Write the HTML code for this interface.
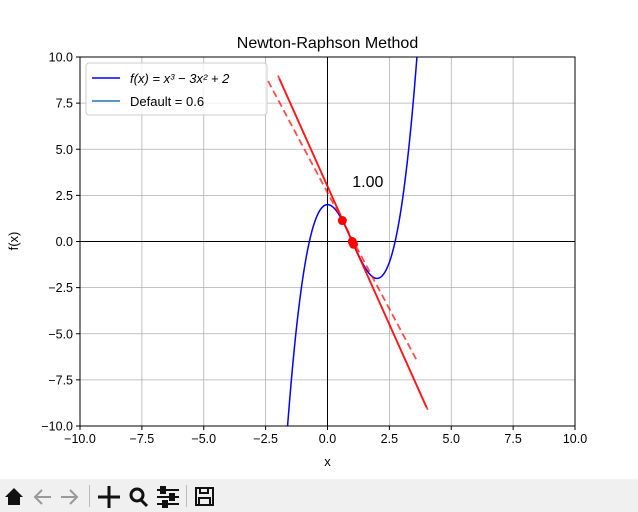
<!DOCTYPE html>
<html><head><meta charset="utf-8"><style>
html,body{margin:0;padding:0;width:638px;height:512px;background:#fff;overflow:hidden;font-family:"Liberation Sans","DejaVu Sans",sans-serif}
#wrap{position:relative;width:638px;height:512px;overflow:hidden}
svg{display:block}
</style></head><body>
<div id="wrap">
<svg id="chart" width="638" height="479" style="position:absolute;left:0;top:0;overflow:hidden" font-family="Liberation Sans, DejaVu Sans, sans-serif"></svg>
<svg width="638" height="33" style="position:absolute;left:0;top:479px;overflow:hidden">
<rect width="638" height="33" fill="#f0f0f0"/>
<g fill="#111"><polygon points="5,18 14,9 23,18"/><rect x="8" y="17" width="12" height="9"/></g>
<g fill="none" stroke="#999" stroke-width="2"><polyline points="42,11 35,18 42,25"/><line x1="35" y1="18" x2="51" y2="18"/></g>
<g fill="none" stroke="#999" stroke-width="2"><polyline points="70,11 77,18 70,25"/><line x1="61" y1="18" x2="77" y2="18"/></g>
<rect x="89" y="6" width="1" height="22" fill="#bbb"/>
<g stroke="#111" stroke-width="3"><line x1="98" y1="18" x2="120" y2="18"/><line x1="109" y1="7" x2="109" y2="29"/></g>
<g fill="none" stroke="#111" stroke-width="3"><circle cx="137" cy="16" r="6"/><line x1="141" y1="21" x2="147" y2="27"/></g>
<g stroke="#111" stroke-width="2"><line x1="157" y1="11" x2="179" y2="11"/><line x1="157" y1="18" x2="179" y2="18"/><line x1="157" y1="25" x2="179" y2="25"/><rect x="161" y="8" width="4" height="6" fill="#111"/><rect x="170" y="15" width="4" height="6" fill="#111"/><rect x="163" y="22" width="4" height="6" fill="#111"/></g>
<rect x="186" y="6" width="1" height="22" fill="#bbb"/>
<g fill="none" stroke="#111" stroke-width="2"><rect x="196" y="9" width="17" height="17"/><rect x="200" y="9" width="8" height="5"/><rect x="199" y="19" width="11" height="7"/></g>
</svg>
</div>
<script>
const xTicks=[-10,-7.5,-5,-2.5,0,2.5,5,7.5,10];
const yTicks=[-10,-7.5,-5,-2.5,0,2.5,5,7.5,10];
const x0Default=[0.6];
const iterX=[0.6,1.0508,1.0];
const iterY=[1.136,-0.152,0.0];
const iterSlope=[-2.52,-2.99,-3.0];
const rootLabel=["1.00"];
const L=80,R=575,T=57,B=426;
const sx=v=>L+(v+10)/20*(R-L), sy=v=>B-(v+10)/20*(B-T);
const svg=document.getElementById('chart'),NS='http://www.w3.org/2000/svg';
function mk(t,a,txt){const e=document.createElementNS(NS,t);for(const k in a)e.setAttribute(k,a[k]);if(txt!=null)e.textContent=txt;svg.appendChild(e);return e;}
const defs=mk('defs',{});const cp=document.createElementNS(NS,'clipPath');cp.setAttribute('id','c');const cr=document.createElementNS(NS,'rect');
cr.setAttribute('x',L);cr.setAttribute('y',T);cr.setAttribute('width',R-L);cr.setAttribute('height',B-T);cp.appendChild(cr);defs.appendChild(cp);
let e;
xTicks.forEach(v=>{
e=mk('line',{x1:sx(v),x2:sx(v),y1:T,y2:B,stroke:'#b0b0b0','stroke-width':0.8});

mk('line',{x1:sx(v),x2:sx(v),y1:B,y2:B+4,stroke:'#000'});
e=mk('text',{x:sx(v),y:B+17,'text-anchor':'middle','font-size':12.5},v.toFixed(1).replace('-','−'));
});
yTicks.forEach(v=>{
e=mk('line',{x1:L,x2:R,y1:sy(v),y2:sy(v),stroke:'#b0b0b0','stroke-width':0.8});

mk('line',{x1:L-4,x2:L,y1:sy(v),y2:sy(v),stroke:'#000'});
e=mk('text',{x:L-7,y:sy(v)+4.5,'text-anchor':'end','font-size':12.5},v.toFixed(1).replace('-','−'));
});
e=mk('line',{x1:L,x2:R,y1:sy(0),y2:sy(0),stroke:'#000'});
e=mk('line',{x1:sx(0),x2:sx(0),y1:T,y2:B,stroke:'#000'});
const g=mk('g',{'clip-path':'url(#c)'});
let d='';for(let i=0;i<=800;i++){const x=-10+20*i/800,y=x*x*x-3*x*x+2;d+=(i?'L':'M')+sx(x).toFixed(2)+','+sy(Math.max(-12,Math.min(12,y))).toFixed(2);}
e=mk('path',{d:d,fill:'none',stroke:'#0000ff','stroke-width':1.5});g.appendChild(e);

iterX.forEach((xi,i)=>{const a=xi-3,b=xi+3,ya=iterY[i]+iterSlope[i]*(a-xi),yb=iterY[i]+iterSlope[i]*(b-xi);
e=mk('line',{x1:sx(a),y1:sy(ya),x2:sx(b),y2:sy(yb),stroke:'#ff0000','stroke-opacity':0.7,'stroke-width':1.8,'stroke-dasharray':i==0?'7,4':'none'});g.appendChild(e);
});
iterX.forEach((xi,i)=>{e=mk('circle',{cx:sx(xi),cy:sy(iterY[i]),r:4.5,fill:'#ff0000'});
});
e=mk('text',{x:sx(iterX[iterX.length-1]),y:sy(3)+1,'font-size':16},rootLabel[0]);

e=mk('rect',{x:L,y:T,width:R-L,height:B-T,fill:'none',stroke:'#000'});
e=mk('text',{x:(L+R)/2,y:48,'text-anchor':'middle','font-size':16},'Newton-Raphson Method');
e=mk('text',{x:(L+R)/2,y:466,'text-anchor':'middle','font-size':13},'x');
e=mk('text',{x:18,y:241,'text-anchor':'middle','font-size':13,transform:'rotate(-90 18 241)'},'f(x)');
e=mk('rect',{x:86,y:63,width:181,height:52,rx:3,fill:'#fff','fill-opacity':0.8,stroke:'#ccc'});
mk('line',{x1:92,x2:120,y1:78,y2:78,stroke:'#0000ff','stroke-width':1.5});
e=mk('text',{x:130,y:83,'font-size':13,'font-style':'italic'},'f(x) = x³ − 3x² + 2');
mk('line',{x1:92,x2:120,y1:101,y2:101,stroke:'#1f77b4','stroke-width':1.5});
e=mk('text',{x:130,y:106,'font-size':13},'Default = '+x0Default[0]);
</script>
</body></html>
